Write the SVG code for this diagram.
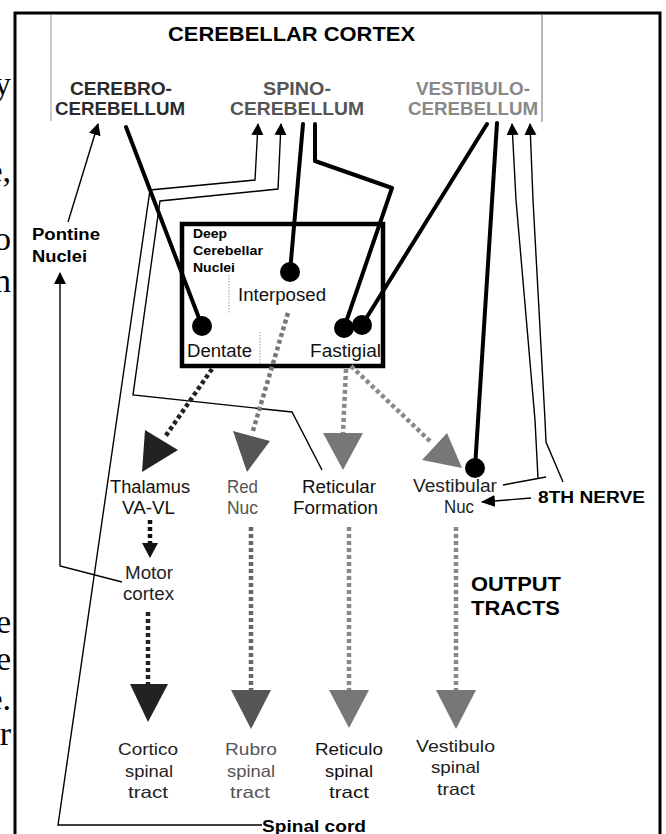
<svg xmlns="http://www.w3.org/2000/svg" width="666" height="834" viewBox="0 0 666 834">
<style>
text{font-family:"Liberation Sans",Arial,sans-serif;}
.b{font-weight:bold;}
.frag{font-family:"Liberation Serif","Times New Roman",serif;font-size:34px;fill:#000;text-anchor:end;}
.thin{fill:none;stroke:#000;stroke-width:1.4;}
.thick{fill:none;stroke:#000;stroke-width:4;stroke-linecap:round;stroke-linejoin:round;}
.dot{fill:#000;}
.dash{fill:none;stroke-width:4.5;stroke-dasharray:4 3;}
.lbl{font-size:17.5px;}
.tr{font-size:16.5px;}
</style>
<defs>
<marker id="ah" viewBox="0 0 12 12" refX="11" refY="6" markerWidth="12" markerHeight="13" markerUnits="userSpaceOnUse" orient="auto">
<path d="M0,0 L12,6 L0,12 z" fill="#000"/>
</marker>
<marker id="ah2" viewBox="0 0 14 12" refX="13" refY="6" markerWidth="14" markerHeight="12" markerUnits="userSpaceOnUse" orient="auto">
<path d="M0,0 L14,6 L0,12 z" fill="#000"/>
</marker>
</defs>
<rect width="666" height="834" fill="#fff"/>

<!-- page text fragments on left edge -->
<g id="fragments">
<text class="frag" x="11" y="95">y</text>
<text class="frag" x="11" y="182">e,</text>
<text class="frag" x="11" y="250">o</text>
<text class="frag" x="11" y="292">n</text>
<text class="frag" x="11" y="633">e</text>
<text class="frag" x="11" y="670">e</text>
<text class="frag" x="11" y="710">e.</text>
<text class="frag" x="11" y="745">r</text>
</g>

<!-- outer frame -->
<rect x="15" y="13" width="645" height="850" fill="none" stroke="#000" stroke-width="3"/>

<!-- cerebellar cortex -->
<g id="cortex">
<line x1="51" y1="15" x2="51" y2="121" stroke="#aaa" stroke-width="1.2"/>
<line x1="542" y1="15" x2="542" y2="122" stroke="#888" stroke-width="1.2"/>
<text class="b" x="168" y="41" font-size="19.5" textLength="247" lengthAdjust="spacingAndGlyphs">CEREBELLAR CORTEX</text>
</g>
<g id="cerebrocerebellum" fill="#2a2a2a">
<text class="b" x="70" y="95" font-size="18" textLength="102" lengthAdjust="spacingAndGlyphs">CEREBRO-</text>
<text class="b" x="55" y="115" font-size="18" textLength="130" lengthAdjust="spacingAndGlyphs">CEREBELLUM</text>
</g>
<g id="spinocerebellum" fill="#555">
<text class="b" x="263" y="95" font-size="18" textLength="68" lengthAdjust="spacingAndGlyphs">SPINO-</text>
<text class="b" x="230" y="115" font-size="18" textLength="134" lengthAdjust="spacingAndGlyphs">CEREBELLUM</text>
</g>
<g id="vestibulocerebellum" fill="#888">
<text class="b" x="416" y="95" font-size="18" textLength="114" lengthAdjust="spacingAndGlyphs">VESTIBULO-</text>
<text class="b" x="408" y="115" font-size="18" textLength="130" lengthAdjust="spacingAndGlyphs">CEREBELLUM</text>
</g>

<g id="pontine">
<text class="b" x="32" y="240" font-size="16" textLength="68" lengthAdjust="spacingAndGlyphs">Pontine</text>
<text class="b" x="32" y="262" font-size="16" textLength="55" lengthAdjust="spacingAndGlyphs">Nuclei</text>
</g>

<g id="deep-nuclei">
<rect x="182" y="224" width="201" height="142" fill="none" stroke="#000" stroke-width="4.5"/>
<text class="b" x="193" y="238" font-size="13" textLength="34" lengthAdjust="spacingAndGlyphs">Deep</text>
<text class="b" x="193" y="255" font-size="13" textLength="70" lengthAdjust="spacingAndGlyphs">Cerebellar</text>
<text class="b" x="193" y="272" font-size="13" textLength="42" lengthAdjust="spacingAndGlyphs">Nuclei</text>
<line x1="229" y1="275" x2="229" y2="313" stroke="#999" stroke-width="1" stroke-dasharray="1.5 1.5"/>
<line x1="260" y1="332" x2="260" y2="363" stroke="#999" stroke-width="1" stroke-dasharray="1.5 1.5"/>
</g>
<g id="interposed">
<text class="lbl" x="238" y="301" fill="#111" textLength="88" lengthAdjust="spacingAndGlyphs">Interposed</text>
</g>
<g id="dentate">
<text class="lbl" x="187" y="357" fill="#111" textLength="65" lengthAdjust="spacingAndGlyphs">Dentate</text>
</g>
<g id="fastigial">
<text class="lbl" x="310" y="357" fill="#111" textLength="71" lengthAdjust="spacingAndGlyphs">Fastigial</text>
</g>

<g id="thalamus">
<text class="lbl" x="110" y="493" fill="#111" textLength="80" lengthAdjust="spacingAndGlyphs">Thalamus</text>
<text class="lbl" x="122" y="514" fill="#111" textLength="53" lengthAdjust="spacingAndGlyphs">VA-VL</text>
</g>
<g id="red-nuc">
<text class="lbl" x="227" y="493" fill="#555" textLength="31" lengthAdjust="spacingAndGlyphs">Red</text>
<text class="lbl" x="227" y="514" fill="#555" textLength="31" lengthAdjust="spacingAndGlyphs">Nuc</text>
</g>
<g id="reticular">
<text class="lbl" x="302" y="493" fill="#111" textLength="74" lengthAdjust="spacingAndGlyphs">Reticular</text>
<text class="lbl" x="293" y="514" fill="#111" textLength="85" lengthAdjust="spacingAndGlyphs">Formation</text>
</g>
<g id="vestibular-nuc">
<text class="lbl" x="413" y="492" fill="#222" textLength="84" lengthAdjust="spacingAndGlyphs">Vestibular</text>
<text class="lbl" x="444" y="513" fill="#222" textLength="30" lengthAdjust="spacingAndGlyphs">Nuc</text>
</g>
<g id="motor-cortex">
<text class="lbl" x="125" y="579" fill="#222" textLength="48" lengthAdjust="spacingAndGlyphs">Motor</text>
<text class="lbl" x="123" y="600" fill="#222" textLength="51" lengthAdjust="spacingAndGlyphs">cortex</text>
</g>
<g id="eighth-nerve">
<text class="b" x="538" y="503" font-size="16" textLength="107" lengthAdjust="spacingAndGlyphs">8TH NERVE</text>
</g>
<g id="output-tracts">
<text class="b" x="471" y="591" font-size="19.5" textLength="90" lengthAdjust="spacingAndGlyphs">OUTPUT</text>
<text class="b" x="471" y="615" font-size="19.5" textLength="89" lengthAdjust="spacingAndGlyphs">TRACTS</text>
</g>

<g id="corticospinal" fill="#222">
<text class="tr" x="118" y="755" textLength="60" lengthAdjust="spacingAndGlyphs">Cortico</text>
<text class="tr" x="125" y="777" textLength="48" lengthAdjust="spacingAndGlyphs">spinal</text>
<text class="tr" x="128" y="798" textLength="40" lengthAdjust="spacingAndGlyphs">tract</text>
</g>
<g id="rubrospinal" fill="#555">
<text class="tr" x="225" y="755" textLength="52" lengthAdjust="spacingAndGlyphs">Rubro</text>
<text class="tr" x="227" y="777" textLength="48" lengthAdjust="spacingAndGlyphs">spinal</text>
<text class="tr" x="230" y="798" textLength="40" lengthAdjust="spacingAndGlyphs">tract</text>
</g>
<g id="reticulospinal" fill="#111">
<text class="tr" x="315" y="755" textLength="68" lengthAdjust="spacingAndGlyphs">Reticulo</text>
<text class="tr" x="325" y="777" textLength="48" lengthAdjust="spacingAndGlyphs">spinal</text>
<text class="tr" x="329" y="798" textLength="40" lengthAdjust="spacingAndGlyphs">tract</text>
</g>
<g id="vestibulospinal" fill="#222">
<text class="tr" x="416" y="752" textLength="79" lengthAdjust="spacingAndGlyphs">Vestibulo</text>
<text class="tr" x="431" y="773" textLength="49" lengthAdjust="spacingAndGlyphs">spinal</text>
<text class="tr" x="437" y="795" textLength="38" lengthAdjust="spacingAndGlyphs">tract</text>
</g>
<g id="spinal-cord">
<text class="b" x="262" y="832" font-size="16" textLength="104" lengthAdjust="spacingAndGlyphs">Spinal cord</text>
</g>

<g id="connectors">
<!-- thin afferent lines -->
<polyline class="thin" points="68,222 98,124" marker-end="url(#ah)"/>
<polyline class="thin" points="122,582 60,566 60,273" marker-end="url(#ah)"/>
<polyline class="thin" points="262,825 58,825 150,190 255,180 258,124" marker-end="url(#ah)"/>
<polyline class="thin" points="322,470 292,412 133,395 160,201 278,189 281,124" marker-end="url(#ah)"/>
<line class="thin" x1="503" y1="485" x2="546" y2="477"/>
<polyline class="thin" points="538,478.5 535,420 516,200 512,124" marker-end="url(#ah)"/>
<polyline class="thin" points="563,482 546,442 545,420 533,200 530,124" marker-end="url(#ah)"/>
<polyline class="thin" points="531,498 482,502" marker-end="url(#ah2)"/>

<!-- thick efferent lines from cortex -->
<line class="thick" x1="126" y1="127" x2="202" y2="326"/>
<line class="thick" x1="303" y1="124" x2="290" y2="272"/>
<polyline class="thick" points="315,124 315,161 392,188 344,328"/>
<line class="thick" x1="487" y1="124" x2="362" y2="325"/>
<line class="thick" x1="497" y1="123" x2="475" y2="468"/>
<circle class="dot" cx="202" cy="326" r="10"/>
<circle class="dot" cx="290" cy="272" r="10"/>
<circle class="dot" cx="344" cy="328" r="10"/>
<circle class="dot" cx="362" cy="325" r="10"/>
<circle class="dot" cx="475" cy="468" r="10"/>

<!-- dotted output pathways -->
<line class="dash" x1="212" y1="369" x2="165" y2="437" stroke="#222"/>
<line class="dash" x1="288" y1="313" x2="252" y2="434" stroke="#777"/>
<line class="dash" x1="346" y1="369" x2="343" y2="433" stroke="#888"/>
<line class="dash" x1="351" y1="366" x2="432" y2="443" stroke="#888"/>
<line class="dash" x1="150" y1="520" x2="150" y2="544" stroke="#111"/>
<line class="dash" x1="148" y1="612" x2="148" y2="685" stroke="#222"/>
<line class="dash" x1="251" y1="527" x2="251" y2="691" stroke="#666"/>
<line class="dash" x1="349" y1="527" x2="349" y2="691" stroke="#888"/>
<line class="dash" x1="456" y1="527" x2="456" y2="691" stroke="#888"/>

<polygon points="145,430 178,450 142,472" fill="#222"/>
<polygon points="233,431 270,441 247,472" fill="#555"/>
<polygon points="323,433 363,433 343,470" fill="#777"/>
<polygon points="422,460 447,433 462,468" fill="#777"/>
<polygon points="142,543 158,543 150,558" fill="#111"/>
<polygon points="130,684 168,684 148,722" fill="#222"/>
<polygon points="231,690 271,690 251,729" fill="#555"/>
<polygon points="329,690 369,690 349,728" fill="#777"/>
<polygon points="436,690 476,690 456,729" fill="#777"/>
</g>
</svg>
